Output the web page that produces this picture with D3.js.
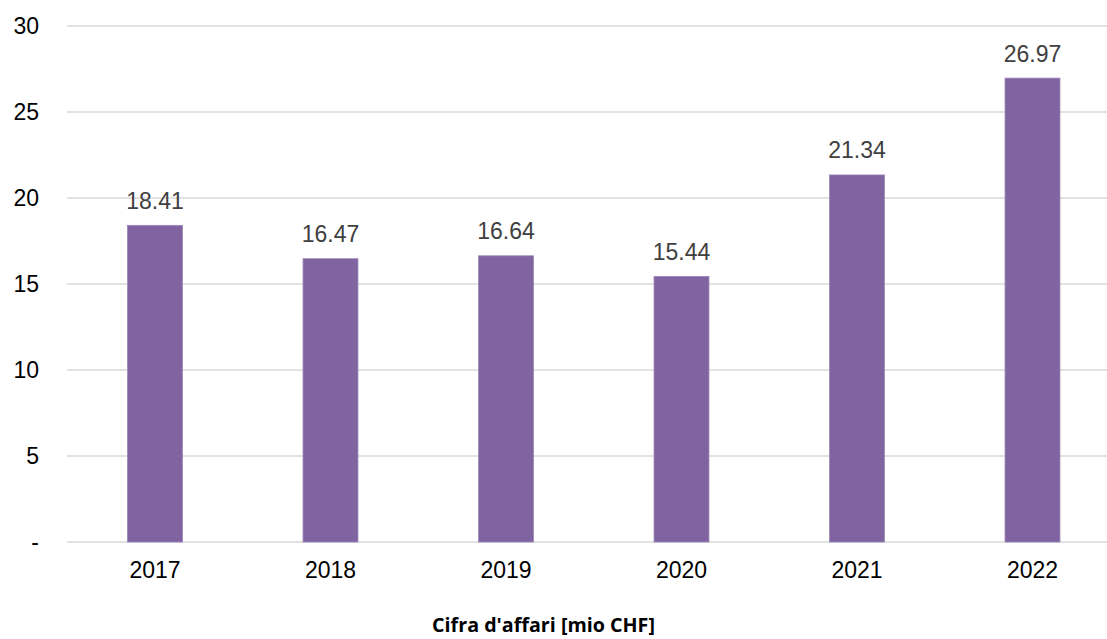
<!DOCTYPE html>
<html><head><meta charset="utf-8">
<script src="https://cdn.jsdelivr.net/npm/d3@7"></script>
<style>
html,body{margin:0;padding:0;background:#fff;}
svg{display:block;}
</style></head>
<body>
<svg id="chart" width="1107" height="639"></svg>
<script>
const categories = ["2017","2018","2019","2020","2021","2022"];
const values = [18.41, 16.47, 16.64, 15.44, 21.34, 26.97];
const yTicks = [0, 5, 10, 15, 20, 25, 30];
const yTickLabels = ["-", "5", "10", "15", "20", "25", "30"];
const axisTitle = "Cifra d'affari [mio CHF]";

const svg = d3.select("#chart");
const W = 1107, H = 639;
const x = d3.scaleBand().domain(categories).range([67.25, 1120.25]).paddingInner(0.687).paddingOuter(0.3435);
const y = d3.scaleLinear().domain([0, 30]).range([542, 26]);

// gridlines
svg.append("g").selectAll("line").data(yTicks).join("line")
  .attr("x1", 67).attr("x2", W)
  .attr("y1", d => y(d)).attr("y2", d => y(d))
  .attr("stroke", "#d9d9d9").attr("stroke-width", 1.5);

// y axis labels
const yAxis = d3.axisLeft(y).tickValues(yTicks).tickSize(0).tickPadding(0)
  .tickFormat((d, i) => yTickLabels[i]);
const gy = svg.append("g").attr("transform", "translate(39,0)").call(yAxis);
gy.select(".domain").remove();
gy.selectAll("text").attr("font-family", "Liberation Sans, Arial, sans-serif")
  .attr("font-size", 23).attr("fill", "#000");

// bars
svg.append("g").selectAll("rect").data(values).join("rect")
  .attr("x", (d, i) => x(categories[i]))
  .attr("width", x.bandwidth())
  .attr("y", d => y(d))
  .attr("height", d => y(0) - y(d))
  .attr("fill", "#8064A2")
  .attr("stroke", "#9a86b6").attr("stroke-width", 0.8);

// value labels
svg.append("g").selectAll("text").data(values).join("text")
  .attr("x", (d, i) => x(categories[i]) + x.bandwidth() / 2)
  .attr("y", d => y(d) - 16.5)
  .attr("text-anchor", "middle")
  .attr("font-family", "Liberation Sans, Arial, sans-serif")
  .attr("font-size", 23).attr("fill", "#404040")
  .text(d => d.toFixed(2));

// x axis labels
const xAxis = d3.axisBottom(x).tickSize(0).tickPadding(0);
const gx = svg.append("g").attr("transform", "translate(0,560)").call(xAxis);
gx.select(".domain").remove();
gx.selectAll("text").attr("font-family", "Liberation Sans, Arial, sans-serif")
  .attr("font-size", 23).attr("fill", "#000").attr("dy", "0.77em");

// title
const t = svg.append("text")
  .attr("x", 543.5).attr("y", 632)
  .attr("text-anchor", "middle")
  .attr("font-family", "Open Sans, sans-serif")
  .attr("font-weight", "bold")
  .attr("font-size", 18).attr("fill", "#000")
  .text(axisTitle);
const tw = t.node().getComputedTextLength();
t.attr("font-size", 18 * 223 / tw);
</script>
</body></html>
